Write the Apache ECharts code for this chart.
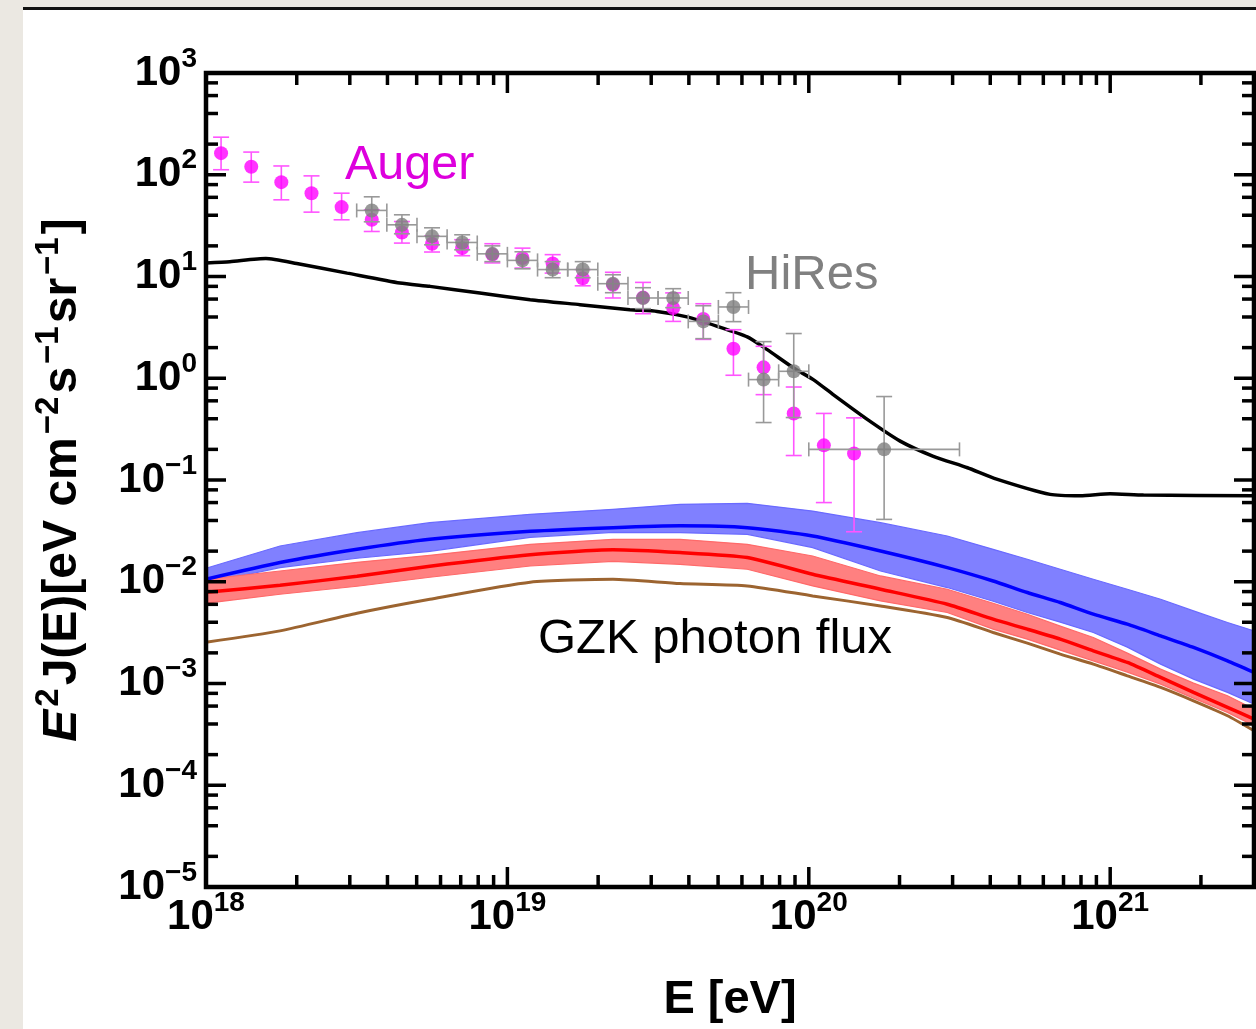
<!DOCTYPE html>
<html><head><meta charset="utf-8">
<script src="https://cdn.jsdelivr.net/npm/echarts@6/dist/echarts.min.js"></script>
<style>
html,body{margin:0;padding:0;width:1256px;height:1029px;overflow:hidden;background:#ebe8e2;}
#panel{position:absolute;left:23px;top:7px;width:1233px;height:1022px;background:#fff;border-top:3px solid #111;}
#chart{position:absolute;left:0;top:0;width:1256px;height:1029px;}
</style></head><body>
<div id="panel"></div><div id="chart"></div>
<script>
// ---------------- data ----------------
const X_MIN = 1e18, X_MAX = 3e21, Y_MIN = 1e-5, Y_MAX = 1e3;

// Auger
const augerE    = [1.122e18,1.413e18,1.778e18,2.239e18,2.818e18,3.548e18,4.467e18,5.623e18,7.079e18,8.913e18,1.122e19,1.413e19,1.778e19,2.239e19,2.818e19,3.548e19,4.467e19,5.623e19,7.079e19,8.913e19,1.122e20,1.413e20];
const augerFlux = [163,120,84.6,65.9,48.1,36.1,27.1,21.0,19.0,16.4,15.2,13.4,9.6,8.3,6.2,4.9,3.83,1.95,1.28,0.451,0.219,0.182];
const augerHi   = [234,167,122,97.5,65.9,45.3,34.7,25,23,21,19,16.4,11.7,11.0,8.75,6.9,5.4,3.0,2.06,0.82,0.451,0.408];
const augerLo   = [112,84.6,56.7,42.9,36.1,27.7,21.3,17.4,16,13.6,12.1,10.8,8.1,6.15,4.31,3.62,2.41,1.07,0.69,0.174,0.060,0.031];

// HiRes
const hiresE    = [3.548e18,4.467e18,5.623e18,7.079e18,8.913e18,1.122e19,1.413e19,1.778e19,2.239e19,2.818e19,3.548e19,4.467e19,5.623e19,7.079e19,8.913e19,1.778e20];
const hiresFlux = [44.6,32.2,24.8,21.6,16.7,14.4,11.7,11.7,8.5,6.15,6.15,3.62,5.02,0.97,1.17,0.20];
const hiresHi   = [60.7,40.4,30.1,25.7,20.0,17.5,14.0,14.0,10.4,7.76,7.59,5.16,6.93,2.29,2.75,0.661];
const hiresLo   = [34.5,26.3,20.5,18.3,14.0,11.9,9.73,9.73,6.93,4.83,4.94,2.45,3.60,0.367,0.411,0.041];
const hiresELo  = [3.162e18,3.981e18,5.012e18,6.310e18,7.943e18,1e19,1.259e19,1.585e19,1.995e19,2.512e19,3.162e19,3.981e19,5.012e19,6.310e19,7.943e19,1e20];
const hiresEHi  = [3.981e18,5.012e18,6.310e18,7.943e18,1e19,1.259e19,1.585e19,1.995e19,2.512e19,3.162e19,3.981e19,5.012e19,6.310e19,7.943e19,1e20,3.162e20];

// model curves
const blackE    = [1e18,1.2e18,1.58e18,2.0e18,2.94e18,4.4e18,5.53e18,8.1e18,1.19e19,1.74e19,2.55e19,3.14e19,3.94e19,4.97e19,6.25e19,7.28e19,8.91e19,1.035e20,1.205e20,1.563e20,2.01e20,2.59e20,3.36e20,4.2e20,6.32e20,7.96e20,1.0e21,1.29e21,3e21];
const blackFlux = [13.6,14.0,15.0,13.4,10.8,8.63,8.0,6.88,5.92,5.29,4.72,4.54,4.01,3.24,2.55,1.91,1.26,0.97,0.69,0.394,0.241,0.171,0.132,0.102,0.0722,0.070,0.0734,0.0711,0.070];

const bandE     = [1e18,1.76e18,3.17e18,5.53e18,1.19e19,2.24e19,3.74e19,6.25e19,1.03e20,1.73e20,2.88e20,4.09e20,5.31e20,6.83e20,8.79e20,1.14e21,1.47e21,1.89e21,2.45e21,3e21];
const blueUpper = [0.01357,0.02245,0.03039,0.03811,0.04597,0.05147,0.05762,0.05894,0.04952,0.03811,0.02815,0.02084,0.01663,0.01327,0.01058,0.008442,0.006735,0.005168,0.003977,0.003291];
const blueLine  = [0.01058,0.01543,0.02084,0.02613,0.03131,0.03402,0.03544,0.03402,0.02815,0.02006,0.01378,0.01018,0.007834,0.00625,0.004798,0.003827,0.002938,0.002261,0.00167,0.001285];
const blueLower = [0.009667,0.01378,0.01701,0.01992,0.02734,0.0306,0.03039,0.02925,0.02166,0.01276,0.008771,0.006437,0.004986,0.004004,0.003174,0.002276,0.00155,0.001105,0.000818,0.000628];
const redUpper  = [0.01058,0.01276,0.01553,0.0182,0.02333,0.02613,0.02613,0.02333,0.01791,0.0114,0.008442,0.006152,0.004798,0.003659,0.002834,0.001987,0.001384,0.001009,0.000757,0.000561];
const redLine   = [0.007889,0.00924,0.01132,0.01419,0.0184,0.02061,0.01934,0.01728,0.01185,0.008442,0.006014,0.004285,0.003419,0.002727,0.002094,0.001611,0.001148,0.000818,0.000583,0.000447];
const redLower  = [0.006152,0.00754,0.009032,0.01107,0.01429,0.01589,0.01485,0.01327,0.009095,0.006481,0.004986,0.003419,0.002727,0.002127,0.00167,0.001294,0.000986,0.000719,0.00052,0.000385];
const brownLine = [0.002548,0.003291,0.004908,0.006735,0.009888,0.01058,0.009601,0.009095,0.007257,0.005787,0.004452,0.003174,0.002491,0.001943,0.00155,0.00119,0.000916,0.000676,0.000482,0.000343];

// tick values
const xMajorTicks = [1e18,1e19,1e20,1e21];
const xMinorTicks = [];
[1e18,1e19,1e20,1e21].forEach(d => { for (let m = 2; m <= 9; m++) if (d*m <= X_MAX*1.0001) xMinorTicks.push(d*m); });
const yMajorTicks = [1e-5,1e-4,1e-3,1e-2,1e-1,1,10,100,1000];
const yMinorTicks = [];
[1e-5,1e-4,1e-3,1e-2,1e-1,1,10,100].forEach(d => { [2,4,6,8].forEach(m => yMinorTicks.push(d*m)); });

// ---------------- chart ----------------
const FONT = '"Liberation Sans", Arial, Helvetica, sans-serif';
const chart = echarts.init(document.getElementById('chart'), null, {renderer:'canvas'});

function pair(xs, ys){ return xs.map((x,i)=>[x, ys[i]]); }

function bandRenderer(upper, lower, fill, stroke){
  return function(params, api){
    const pts = [];
    for (let i = 0; i < bandE.length; i++) pts.push(api.coord([bandE[i], upper[i]]));
    for (let i = bandE.length-1; i >= 0; i--) pts.push(api.coord([bandE[i], lower[i]]));
    return {type:'polygon', shape:{points:pts}, style:{fill:fill, stroke:stroke, lineWidth:1.2}};
  };
}

function supLabel(v){
  const l = Math.log10(v), n = Math.round(l);
  if (Math.abs(l-n) > 1e-6) return '';
  return '{b|10}{s|' + (n < 0 ? '\u2212' + (-n) : String(n)) + '}';
}
const labelRich = {
  b:{fontFamily:FONT, fontWeight:'bold', fontSize:42, color:'#000', lineHeight:44},
  s:{fontFamily:FONT, fontWeight:'bold', fontSize:28, color:'#000', lineHeight:28, padding:[0,0,28,0]}
};

const MAJ = 20, MIN = 12, TW = 3.5;
function frameRenderer(params, api){
  const bl = api.coord([X_MIN, Y_MIN]), tr = api.coord([X_MAX, Y_MAX]);
  const L = bl[0], B = bl[1], R = tr[0], T = tr[1];
  const ch = [];
  const ln = (x1,y1,x2,y2) => ({type:'line', shape:{x1:x1,y1:y1,x2:x2,y2:y2}, style:{stroke:'#000', lineWidth:TW}});
  xMajorTicks.forEach(v => { const x = api.coord([v, Y_MIN])[0]; ch.push(ln(x,B,x,B-MAJ), ln(x,T,x,T+MAJ)); });
  xMinorTicks.forEach(v => { const x = api.coord([v, Y_MIN])[0]; ch.push(ln(x,B,x,B-MIN), ln(x,T,x,T+MIN)); });
  yMajorTicks.forEach(v => { const y = api.coord([X_MIN, v])[1]; ch.push(ln(L,y,L+MAJ,y), ln(R,y,R-MAJ,y)); });
  yMinorTicks.forEach(v => { const y = api.coord([X_MIN, v])[1]; ch.push(ln(L,y,L+MIN,y), ln(R,y,R-MIN,y)); });
  ch.push({type:'rect', shape:{x:L, y:T, width:R-L, height:B-T}, style:{fill:'none', stroke:'#000', lineWidth:4.5}});
  return {type:'group', children:ch};
}

function vErr(color, cap, width){
  return function(params, api){
    const x = api.value(0);
    const p0 = api.coord([x, api.value(2)]), p1 = api.coord([x, api.value(3)]);
    const st = {stroke:color, lineWidth:width};
    const ch = [
      {type:'line', shape:{x1:p0[0], y1:p0[1], x2:p1[0], y2:p1[1]}, style:st},
      {type:'line', shape:{x1:p0[0]-cap, y1:p0[1], x2:p0[0]+cap, y2:p0[1]}, style:st},
      {type:'line', shape:{x1:p1[0]-cap, y1:p1[1], x2:p1[0]+cap, y2:p1[1]}, style:st}
    ];
    if (api.value(4) != null && !isNaN(api.value(4))) {
      const y = api.value(1);
      const q0 = api.coord([api.value(4), y]), q1 = api.coord([api.value(5), y]);
      ch.push({type:'line', shape:{x1:q0[0], y1:q0[1], x2:q1[0], y2:q1[1]}, style:st});
      ch.push({type:'line', shape:{x1:q0[0], y1:q0[1]-cap+1, x2:q0[0], y2:q0[1]+cap-1}, style:st});
      ch.push({type:'line', shape:{x1:q1[0], y1:q1[1]-cap+1, x2:q1[0], y2:q1[1]+cap-1}, style:st});
    }
    return {type:'group', children:ch};
  };
}

const supStyle = {fontFamily:FONT, fontWeight:'bold', fontSize:33, color:'#000', padding:[0,3,28,3]};
const option = {
  backgroundColor:'transparent',
  animation:false,
  grid:{left:206, right:2, top:73, bottom:141, containLabel:false},
  xAxis:[{
    type:'log', logBase:10, min:X_MIN, max:X_MAX, interval:1, splitNumber:4,
    axisLine:{show:false}, axisTick:{show:false}, splitLine:{show:false}, minorTick:{show:false},
    axisLabel:{formatter:supLabel, rich:labelRich, margin:8, showMinLabel:true, showMaxLabel:false},
    name:'E [eV]', nameLocation:'middle', nameGap:90,
    nameTextStyle:{fontFamily:FONT, fontWeight:'bold', fontSize:47, color:'#000'}, z:10
  }],
  yAxis:[{
    type:'log', logBase:10, min:Y_MIN, max:Y_MAX, interval:1, splitNumber:8,
    axisLine:{show:false}, axisTick:{show:false}, splitLine:{show:false}, minorTick:{show:false},
    axisLabel:{formatter:supLabel, rich:labelRich, margin:9, showMinLabel:true, showMaxLabel:true},
    name:'{e|E}{sp|2}{n|J(E)[eV cm}{sp|\u22122}{n|s}{sp|\u22121}{n|sr}{sp|\u22121}{n|]}',
    nameLocation:'middle', nameGap:113, nameRotate:90,
    nameTextStyle:{fontFamily:FONT, fontWeight:'bold', fontSize:48, color:'#000',
      rich:{
        e:{fontFamily:FONT, fontWeight:'bold', fontStyle:'italic', fontSize:48, color:'#000'},
        n:{fontFamily:FONT, fontWeight:'bold', fontSize:48, color:'#000'},
        sp:supStyle
      }}, z:10
  }],
  graphic:[
    {type:'text', x:345, y:166, z:20, style:{text:'Auger', fill:'#dd00dd', font:'48.5px ' + FONT, verticalAlign:'middle', textVerticalAlign:'middle'}},
    {type:'text', x:745, y:275, z:20, style:{text:'HiRes', fill:'#808080', font:'49px ' + FONT, verticalAlign:'middle', textVerticalAlign:'middle'}},
    {type:'text', x:538, y:639, z:20, style:{text:'GZK photon flux', fill:'#000', font:'49px ' + FONT, verticalAlign:'middle', textVerticalAlign:'middle'}}
  ],
  series:[
    {type:'custom', name:'blueBand', coordinateSystem:'cartesian2d', renderItem:bandRenderer(blueUpper, blueLower, '#8080ff', '#6a6aff'), data:[[bandE[0], blueLine[0]]], z:1, silent:true},
    {type:'custom', name:'redBand', coordinateSystem:'cartesian2d', renderItem:bandRenderer(redUpper, redLower, '#ff8080', '#ff6a6a'), data:[[bandE[0], redLine[0]]], z:1, silent:true},
    {type:'line', name:'blue', data:pair(bandE, blueLine), showSymbol:false, smooth:0.2, lineStyle:{color:'#0000ff', width:3.5}, z:2},
    {type:'line', name:'red', data:pair(bandE, redLine), showSymbol:false, smooth:0.2, lineStyle:{color:'#ff0000', width:3.5}, z:2},
    {type:'line', name:'brown', data:pair(bandE, brownLine), showSymbol:false, smooth:0.2, lineStyle:{color:'#9c6430', width:3}, z:2},
    {type:'line', name:'total', data:pair(blackE, blackFlux), showSymbol:false, smooth:0.2, lineStyle:{color:'#000', width:3.5}, z:3},
    {type:'custom', name:'augerErr', coordinateSystem:'cartesian2d', renderItem:vErr('#ff55ff', 8, 1.6),
      data:augerE.map((e,i)=>[e, augerFlux[i], augerLo[i], augerHi[i]]), z:4, silent:true},
    {type:'scatter', name:'Auger', data:pair(augerE, augerFlux), symbol:'circle', symbolSize:14, itemStyle:{color:'#ff00ff'}, z:5},
    {type:'custom', name:'hiresErr', coordinateSystem:'cartesian2d', renderItem:vErr('#999999', 8, 1.6),
      data:hiresE.map((e,i)=>[e, hiresFlux[i], hiresLo[i], hiresHi[i], hiresELo[i], hiresEHi[i]]), z:6, silent:true},
    {type:'scatter', name:'HiRes', data:pair(hiresE, hiresFlux), symbol:'circle', symbolSize:14, itemStyle:{color:'#808080'}, z:7},
    {type:'custom', name:'frame', coordinateSystem:'cartesian2d', renderItem:frameRenderer, data:[[1e19, 1]], z:10, silent:true}
  ]
};
chart.setOption(option);
</script></body></html>
